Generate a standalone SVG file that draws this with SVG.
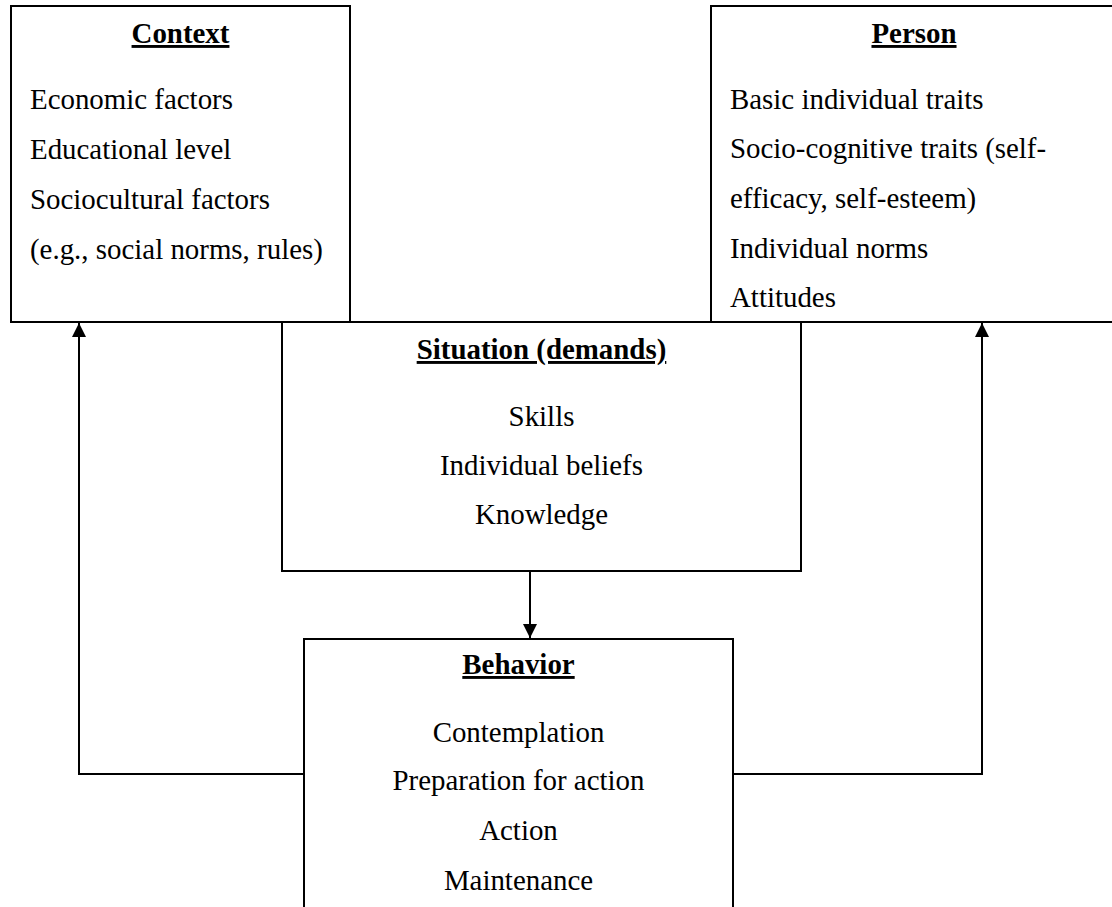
<svg xmlns="http://www.w3.org/2000/svg" width="1112" height="907" viewBox="0 0 1112 907">
  <style>
    .box { fill: #ffffff; stroke: #000000; stroke-width: 2; }
    .t { font-family: "Liberation Serif", "Times New Roman", serif; font-size: 28.9px; fill: #000000; }
    .h { font-family: "Liberation Serif", "Times New Roman", serif; font-size: 28.9px; font-weight: bold; fill: #000000; text-decoration: underline; text-anchor: middle; }
    .c { text-anchor: middle; }
    .conn { fill: none; stroke: #000000; stroke-width: 2; }
  </style>
  <defs>
    <marker id="arrow" markerWidth="14" markerHeight="14" refX="14" refY="7" orient="auto" markerUnits="userSpaceOnUse">
      <path d="M0,0 L14,7 L0,14 Z" fill="#000000"/>
    </marker>
  </defs>
  <rect width="1112" height="907" fill="#ffffff"/>

  <g id="context">
    <rect class="box" x="11" y="6" width="339" height="316"/>
    <text class="h" x="180.5" y="43">Context</text>
    <text class="t" x="30" y="109">Economic factors</text>
    <text class="t" x="30" y="159">Educational level</text>
    <text class="t" x="30" y="209">Sociocultural factors</text>
    <text class="t" x="30" y="259">(e.g., social norms, rules)</text>
  </g>

  <g id="person">
    <rect class="box" x="711" y="6" width="410" height="316"/>
    <text class="h" x="914" y="43">Person</text>
    <text class="t" x="730" y="109">Basic individual traits</text>
    <text class="t" x="730" y="158">Socio-cognitive traits (self-</text>
    <text class="t" x="730" y="208">efficacy, self-esteem)</text>
    <text class="t" x="730" y="258">Individual norms</text>
    <text class="t" x="730" y="307">Attitudes</text>
  </g>

  <g id="situation">
    <rect class="box" x="282" y="322" width="519" height="249"/>
    <text class="h" x="541.5" y="359">Situation (demands)</text>
    <text class="t c" x="541.5" y="426">Skills</text>
    <text class="t c" x="541.5" y="475">Individual beliefs</text>
    <text class="t c" x="541.5" y="524">Knowledge</text>
  </g>

  <g id="behavior">
    <rect class="box" x="304" y="639" width="429" height="290"/>
    <text class="h" x="518.5" y="674">Behavior</text>
    <text class="t c" x="518.5" y="742">Contemplation</text>
    <text class="t c" x="518.5" y="790">Preparation for action</text>
    <text class="t c" x="518.5" y="840">Action</text>
    <text class="t c" x="518.5" y="890">Maintenance</text>
  </g>

  <g id="connectors">
    <path class="conn" d="M530,571 L530,638" marker-end="url(#arrow)"/>
    <path class="conn" d="M304,774 L79,774 L79,323" marker-end="url(#arrow)"/>
    <path class="conn" d="M733,774 L982,774 L982,323" marker-end="url(#arrow)"/>
  </g>
</svg>
